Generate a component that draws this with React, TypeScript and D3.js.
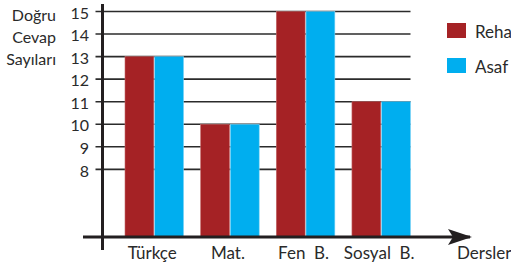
import React from "react";
import * as d3 from "d3";

const categories = ["Türkçe", "Mat.", "Fen  B.", "Sosyal  B."];
const series = ["Reha", "Asaf"];
const rehaValues = [13, 10, 15, 11];
const asafValues = [13, 10, 15, 11];
const yTicks = [8, 9, 10, 11, 12, 13, 14, 15];
const yTitle = ["Doğru", "Cevap", "Sayıları"];
const xTitle = "Dersler";
const colors = ["#A52225", "#00AEEF"];

const FONT = "Lato, 'Open Sans', sans-serif";

export default function App() {
  const W = 511, H = 268;
  const axisX = 102.5;
  const y = d3.scaleLinear().domain([5, 15]).range([237, 11.5]);
  const x = d3.scaleBand<string>().domain(categories).range([125, 410.5]).paddingInner(0.226);
  const xs = d3.scaleBand<string>().domain(series).range([0, x.bandwidth()]).paddingInner(0.03);
  const values = [rehaValues, asafValues];
  const gridRight = 410.5;
  return (
    <svg width={W} height={H} style={{ position: "absolute", left: 0, top: 0, background: "#fff" }} fontFamily={FONT}>
      <defs>
        <marker id="arr" viewBox="0 0 24 16" refX="22" refY="8" markerWidth="24" markerHeight="16" markerUnits="userSpaceOnUse" orient="auto">
          <path d="M0,0 L24,8 L0,16 L5,8 Z" fill="#231f20" />
        </marker>
      </defs>
      {yTicks.map((t) => (
        <line key={t} x1={95.5} x2={gridRight} y1={y(t)} y2={y(t)} stroke="#2b2b2b" strokeWidth={1.6} />
      ))}
      {categories.map((c, i) =>
        series.map((s, j) => (
          <rect key={c + s} x={(x(c) ?? 0) + (xs(s) ?? 0)} y={y(values[j][i])} width={xs.bandwidth()} height={y(5) - y(values[j][i])}
            fill={colors[j]} stroke={j === 0 ? "#c46a6a" : "#7fd3f5"} strokeWidth={0.6} />
        ))
      )}
      <line x1={axisX} x2={axisX} y1={4} y2={250} stroke="#231f20" strokeWidth={3} />
      <line x1={83} x2={470} y1={237} y2={237} stroke="#231f20" strokeWidth={3} markerEnd="url(#arr)" />
      {yTicks.map((t) => (
        <text key={t} x={89} y={y(t)} dy="0.45em" textAnchor="end" fontSize={16} fill="#2a2a2a">{t}</text>
      ))}
      {yTitle.map((l, i) => (
        <text key={l} x={56} y={21 + i * 22} textAnchor="end" fontSize={16} fill="#2a2a2a">{l}</text>
      ))}
      {categories.map((c) => (
        <text key={c} x={(x(c) ?? 0) + x.bandwidth() / 2 - 2} y={259} textAnchor="middle" fontSize={17} fill="#2a2a2a" style={{ whiteSpace: "pre" }}>{c}</text>
      ))}
      <text x={457} y={259} fontSize={17} fill="#2a2a2a">{xTitle}</text>
      {series.map((s, j) => (
        <g key={s}>
          <rect x={447} y={23 + j * 35} width={19} height={15} fill={colors[j]} />
          <text x={475} y={37.5 + j * 35} fontSize={17} fill="#2a2a2a">{s}</text>
        </g>
      ))}
    </svg>
  );
}
